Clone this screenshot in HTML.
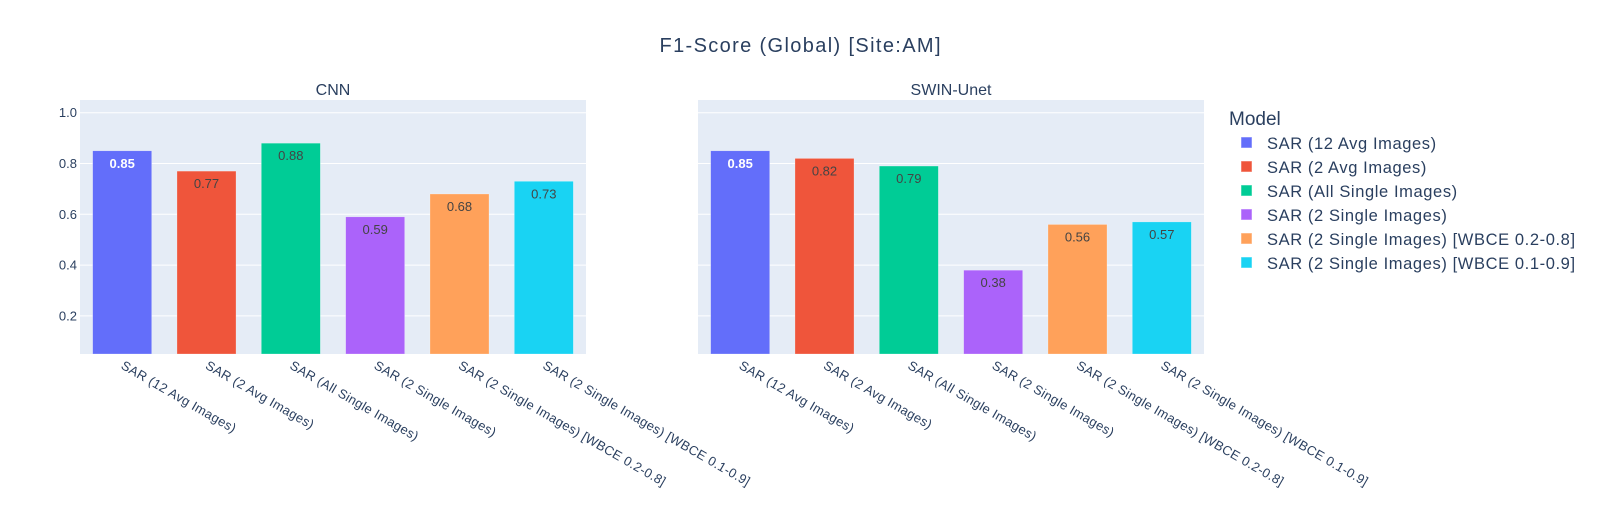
<!DOCTYPE html>
<html><head><meta charset="utf-8"><style>
body{margin:0;background:#fff;}
svg{font-family:"Liberation Sans",sans-serif;}
</style></head><body>
<svg width="1600" height="500" viewBox="0 0 1600 500" xmlns="http://www.w3.org/2000/svg">
<text x="800" y="52" text-anchor="middle" font-size="20" fill="#2a3f5f" textLength="281">F1-Score (Global) [Site:AM]</text>
<g id="plots"></g>
<g id="legend">
<text x="1229" y="125" font-size="19" fill="#2a3f5f">Model</text>
</g>
</svg>
<script>
const categories = ["SAR (12 Avg Images)","SAR (2 Avg Images)","SAR (All Single Images)","SAR (2 Single Images)","SAR (2 Single Images) [WBCE 0.2-0.8]","SAR (2 Single Images) [WBCE 0.1-0.9]"];
const panelTitles = ["CNN","SWIN-Unet"];
const cnnValues = [0.85,0.77,0.88,0.59,0.68,0.73];
const swinValues = [0.85,0.82,0.79,0.38,0.56,0.57];
const yTicks = [0.2,0.4,0.6,0.8,1.0];
const yTickLabels = ["0.2","0.4","0.6","0.8","1.0"];
const colors = ["#636efa","#EF553B","#00cc96","#ab63fa","#FFA15A","#19d3f3"];
const textColors = ["#fff","#444","#444","#444","#444","#444"];

const NS="http://www.w3.org/2000/svg";
function mk(tag,attrs,parent){const e=document.createElementNS(NS,tag);for(const k in attrs)e.setAttribute(k,attrs[k]);parent.appendChild(e);return e;}
const plotTop=100,plotBottom=354,yMin=0.05,yMax=1.05;
function yScale(v){return plotBottom-(v-yMin)/(yMax-yMin)*(plotBottom-plotTop);}
const panels=[{x0:80,x1:586,vals:cnnValues},{x0:698,x1:1204,vals:swinValues}];
const root=document.getElementById('plots');
panels.forEach((p,pi)=>{
  const g=mk('g',{},root);
  
  
  const bg=mk('rect',{x:p.x0,y:plotTop,width:p.x1-p.x0,height:plotBottom-plotTop,fill:'#E5ECF6'},g);
  
  
  yTicks.forEach((t,i)=>{
    const ln=mk('line',{x1:p.x0,x2:p.x1,y1:yScale(t),y2:yScale(t),stroke:'#fff','stroke-width':1},g);
    
    
    if(pi===0){
      const tx=mk('text',{x:p.x0-3,y:yScale(t)+4.5,'text-anchor':'end','font-size':13,fill:'#2a3f5f'},g);
      tx.textContent=yTickLabels[i];
      
      
    }
  });
  const step=(p.x1-p.x0)/categories.length, bw=step*0.7;
  const st=mk('text',{x:(p.x0+p.x1)/2,y:95,'text-anchor':'middle','font-size':16,fill:'#2a3f5f'},g);
  st.textContent=panelTitles[pi];
  
  
  p.vals.forEach((v,i)=>{
    const cx=p.x0+step*(i+0.5);
    const r=mk('rect',{x:cx-bw/2,y:yScale(v),width:bw,height:plotBottom-yScale(v),fill:colors[i],stroke:'rgba(255,255,255,0.5)','stroke-width':0.5},g);
    
    
    const bt=mk('text',{x:cx,y:yScale(v)+17,'text-anchor':'middle','font-size':13,fill:textColors[i],'font-weight':i===0?'bold':'normal'},g);
    bt.textContent=v.toFixed(2);
    
    
    const xl=mk('text',{x:cx-2,y:plotBottom+14,'font-size':13,'letter-spacing':0.3,fill:'#2a3f5f',transform:`rotate(30 ${cx-2} ${plotBottom+14})`},g);
    xl.textContent=categories[i];
    
    
  });
});
const lg=document.getElementById('legend');
categories.forEach((c,i)=>{
  const yy=143+i*24;
  const it=mk('g',{},lg);
  
  
  mk('rect',{x:1241,y:yy-6,width:11,height:11,fill:colors[i],stroke:'rgba(255,255,255,0.5)'},it);
  const t=mk('text',{x:1267,y:yy+6,'font-size':16.5,'letter-spacing':0.6,fill:'#2a3f5f'},it);
  t.textContent=c;
});
</script>
</body></html>
